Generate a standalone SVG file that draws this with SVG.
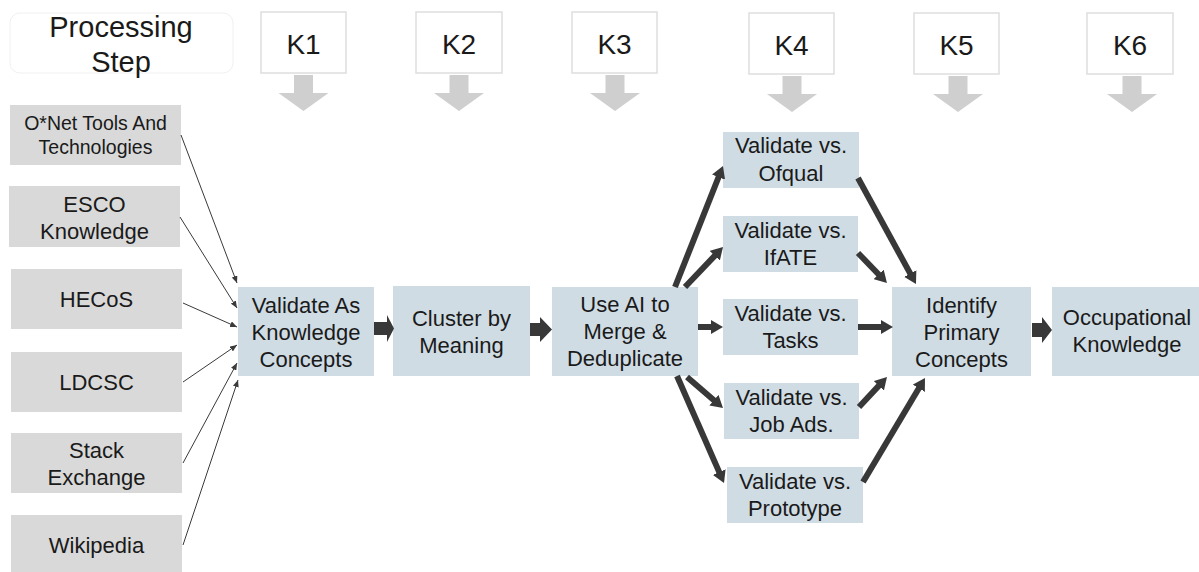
<svg xmlns="http://www.w3.org/2000/svg" width="1199" height="572" viewBox="0 0 1199 572">
<style>
text{font-family:"Liberation Sans",Arial,sans-serif;fill:#1a1a1a;text-anchor:middle}
.t{font-size:22px}
.s{font-size:19.5px}
.k{font-size:28px}
.h{font-size:29px}
.src{fill:#d9d9d9}
.box{fill:#d0dce4}
.kb{fill:#ffffff;stroke:#dedede;stroke-width:1.5}
.ga{fill:#cfcfcf}
.thin{stroke:#3a3a3a;stroke-width:1;fill:none}
.thick{stroke:#383838;stroke-width:6;fill:none}
.blk{fill:#383838}
</style>
<defs>
<marker id="ah" markerUnits="userSpaceOnUse" markerWidth="7" markerHeight="6" viewBox="0 0 7 6" refX="7" refY="3" orient="auto"><path d="M0,0 L7,3 L0,6 z" fill="#3a3a3a"/></marker>
<marker id="AH" markerUnits="userSpaceOnUse" markerWidth="12" markerHeight="14" viewBox="0 0 12 14" refX="5" refY="7" orient="auto"><path d="M0,0 L12,7 L0,14 z" fill="#383838"/></marker>
</defs>
<rect x="0" y="0" width="1199" height="572" fill="#ffffff"/>

<g id="header">
<rect x="10" y="13" width="223" height="60" rx="10" fill="none" stroke="#f0f0f0" stroke-width="1"/>
<text class="h" x="121" y="37">Processing</text>
<text class="h" x="121" y="72">Step</text>
</g>

<g id="K1"><rect class="kb" x="261" y="12" width="85" height="61"/><text class="k" x="303.5" y="54">K1</text><path class="ga" d="M294,75 H313 V93 H328.5 L303.5,111 L278.5,93 H294 z"/></g>
<g id="K2"><rect class="kb" x="416" y="12" width="86" height="61"/><text class="k" x="459" y="54">K2</text><path class="ga" d="M449.5,75 H468.5 V93 H484 L459,111 L434,93 H449.5 z"/></g>
<g id="K3"><rect class="kb" x="572" y="12" width="85" height="61"/><text class="k" x="614.5" y="54">K3</text><path class="ga" d="M605.5,75 H624.5 V93 H640 L615,111 L590,93 H605.5 z"/></g>
<g id="K4"><rect class="kb" x="749" y="13" width="85" height="61"/><text class="k" x="791.5" y="55">K4</text><path class="ga" d="M782.5,76 H801.5 V94 H817 L792,112 L767,94 H782.5 z"/></g>
<g id="K5"><rect class="kb" x="914" y="13" width="85" height="61"/><text class="k" x="956.5" y="55">K5</text><path class="ga" d="M948.5,76 H967.5 V94 H983 L958,112 L933,94 H948.5 z"/></g>
<g id="K6"><rect class="kb" x="1087" y="13" width="86" height="61"/><text class="k" x="1130" y="55">K6</text><path class="ga" d="M1122.5,76 H1141.5 V94 H1157 L1132,112 L1107,94 H1122.5 z"/></g>

<g id="onet"><rect class="src" x="10" y="105" width="171" height="60"/><text class="s" x="95.5" y="130">O*Net Tools And</text><text class="s" x="95.5" y="154">Technologies</text></g>
<g id="esco"><rect class="src" x="9" y="186" width="171" height="61"/><text class="t" x="94.5" y="212">ESCO</text><text class="t" x="94.5" y="239">Knowledge</text></g>
<g id="hecos"><rect class="src" x="11" y="269" width="171" height="60"/><text class="t" x="96.5" y="307">HECoS</text></g>
<g id="ldcsc"><rect class="src" x="11" y="352" width="171" height="60"/><text class="t" x="96.5" y="390">LDCSC</text></g>
<g id="stack"><rect class="src" x="11" y="433" width="171" height="60"/><text class="t" x="96.5" y="458">Stack</text><text class="t" x="96.5" y="485">Exchange</text></g>
<g id="wiki"><rect class="src" x="11" y="515" width="171" height="60"/><text class="t" x="96.5" y="553">Wikipedia</text></g>

<g id="validate"><rect class="box" x="238" y="287" width="136" height="89"/><text class="t" x="306" y="313">Validate As</text><text class="t" x="306" y="340">Knowledge</text><text class="t" x="306" y="367">Concepts</text></g>
<g id="cluster"><rect class="box" x="393" y="286" width="137" height="90"/><text class="t" x="461.5" y="326">Cluster by</text><text class="t" x="461.5" y="353">Meaning</text></g>
<g id="merge"><rect class="box" x="552" y="287" width="146" height="89"/><text class="t" x="625" y="312">Use AI to</text><text class="t" x="625" y="339">Merge &amp;</text><text class="t" x="625" y="366">Deduplicate</text></g>

<g id="ofqual"><rect class="box" x="723" y="132" width="136" height="56"/><text class="t" x="791" y="153">Validate vs.</text><text class="t" x="791" y="181">Ofqual</text></g>
<g id="ifate"><rect class="box" x="723" y="216" width="135" height="56"/><text class="t" x="790.5" y="238">Validate vs.</text><text class="t" x="790.5" y="265">IfATE</text></g>
<g id="tasks"><rect class="box" x="723" y="299" width="135" height="56"/><text class="t" x="790.5" y="321">Validate vs.</text><text class="t" x="790.5" y="348">Tasks</text></g>
<g id="jobads"><rect class="box" x="724" y="383" width="135" height="56"/><text class="t" x="791.5" y="405">Validate vs.</text><text class="t" x="791.5" y="432">Job Ads.</text></g>
<g id="prototype"><rect class="box" x="727" y="467" width="136" height="56"/><text class="t" x="795" y="489">Validate vs.</text><text class="t" x="795" y="516">Prototype</text></g>

<g id="identify"><rect class="box" x="892" y="287" width="139" height="89"/><text class="t" x="961.5" y="313">Identify</text><text class="t" x="961.5" y="340">Primary</text><text class="t" x="961.5" y="367">Concepts</text></g>
<g id="occupational"><rect class="box" x="1052" y="287" width="150" height="89"/><text class="t" x="1127" y="325">Occupational</text><text class="t" x="1127" y="352">Knowledge</text></g>

<g id="connectors">
<line class="thin" x1="181" y1="135" x2="237" y2="283" marker-end="url(#ah)"/>
<line class="thin" x1="180" y1="217" x2="237" y2="308" marker-end="url(#ah)"/>
<line class="thin" x1="183" y1="303" x2="237" y2="327" marker-end="url(#ah)"/>
<line class="thin" x1="183" y1="382" x2="237" y2="345" marker-end="url(#ah)"/>
<line class="thin" x1="183" y1="463" x2="237" y2="363" marker-end="url(#ah)"/>
<line class="thin" x1="183" y1="545" x2="238" y2="380" marker-end="url(#ah)"/>

<path class="blk" d="M374,322 H387 V315 L394,328.5 L387,342 V335 H374 z"/>
<path class="blk" d="M530,323 H540 V317 L552,329.5 L540,342 V336 H530 z"/>
<path class="blk" d="M1032,323 H1042 V317 L1052,330 L1042,343 V337 H1032 z"/>

<line class="thick" x1="675" y1="287" x2="720.4" y2="172.5" marker-end="url(#AH)"/>
<line class="thick" x1="685" y1="287" x2="718.2" y2="252.1" marker-end="url(#AH)"/>
<line class="thick" x1="698" y1="327" x2="716" y2="327" marker-end="url(#AH)"/>
<line class="thick" x1="687" y1="377" x2="717.7" y2="403.4" marker-end="url(#AH)"/>
<line class="thick" x1="677" y1="376" x2="721.2" y2="476.6" marker-end="url(#AH)"/>

<line class="thick" x1="858" y1="178" x2="912.6" y2="277.9" marker-end="url(#AH)"/>
<line class="thick" x1="858" y1="253" x2="882.1" y2="278" marker-end="url(#AH)"/>
<line class="thick" x1="858" y1="327" x2="886" y2="327" marker-end="url(#AH)"/>
<line class="thick" x1="859" y1="407" x2="882.2" y2="382.1" marker-end="url(#AH)"/>
<line class="thick" x1="863" y1="482" x2="921.4" y2="384" marker-end="url(#AH)"/>
</g>
</svg>
